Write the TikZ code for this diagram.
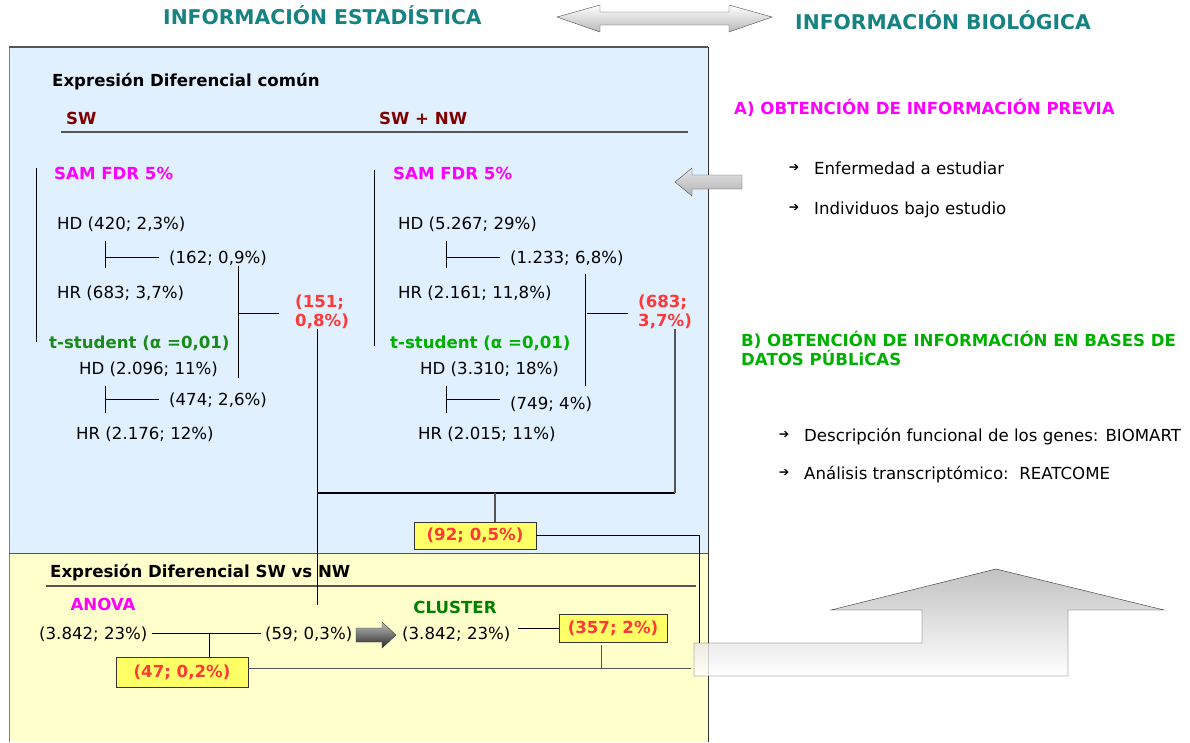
\documentclass[tikz,border=0pt]{standalone}
\usepackage{fontspec}
\setmainfont{DejaVu Sans}
\definecolor{PanelBlue}{HTML}{E1F0FF}
\definecolor{PanelYellow}{HTML}{FFFFCC}
\definecolor{BoxYellow}{HTML}{FFFF66}
\definecolor{ValRed}{HTML}{FF3838}
\definecolor{TitleTeal}{HTML}{168282}
\definecolor{HeadMagenta}{HTML}{FF00FF}
\definecolor{HeadDarkRed}{HTML}{800000}
\definecolor{TestGreen}{HTML}{1A8A1A}
\definecolor{ClusterGreen}{HTML}{008000}
\definecolor{BrightGreen}{HTML}{00B000}
\definecolor{LineGray}{HTML}{555555}

\begin{document}
\begin{tikzpicture}[x=1pt, y=-1pt, inner sep=0pt,
    plain/.style={anchor=base west, font=\fontsize{16.6}{19}\selectfont},
    bold/.style={anchor=base west, font=\fontsize{16.6}{19}\selectfont\bfseries},
    title/.style={anchor=base west, text=TitleTeal, font=\fontsize{20.3}{24}\selectfont\bfseries},
    valbox/.style={draw=black!80, fill=BoxYellow, text=ValRed, font=\fontsize{16.6}{19}\selectfont\bfseries},
    bul/.style={font=\fontsize{12.5}{12}\selectfont},
    link/.style={black, line width=0.8pt}]
  \useasboundingbox (0,0) rectangle (1190,742);

  % Panels
  \fill[PanelBlue] (9,47) rectangle (708,553);
  \fill[PanelYellow] (9,553) rectangle (708,742);
  \draw[gray] (9,742) -- (9,47);
  \draw[black!80] (708,47) -- (708,742);
  \draw[LineGray, line width=1.3pt] (9,47) -- (708,47);
  \draw[LineGray] (9,553) -- (708,553);
  \draw[LineGray, line width=1.2pt] (61,132) -- (688,132);
  \draw[LineGray, line width=1.2pt] (46,586) -- (696,586);

  % Nodes
  \node[title] (est) at (163,24.4) {INFORMACIÓN ESTADÍSTICA};
  \node[title] (bio) at (795,29.4) {INFORMACIÓN BIOLÓGICA};

  \node[bold] (comun) at (52,86) {Expresión Diferencial común};
  \node[bold, text=HeadDarkRed] (sw) at (66,124) {SW};
  \node[bold, text=HeadDarkRed] (swnw) at (379,124) {SW + NW};

  \node[bold, text=HeadMagenta] (samL) at (54,179) {SAM FDR 5\%};
  \node[plain] (hdL1) at (57,229) {HD (420; 2,3\%)};
  \node[plain] (inL1) at (169,263) {(162; 0,9\%)};
  \node[plain] (hrL1) at (57,298) {HR (683; 3,7\%)};
  \node[bold, text=TestGreen] (tL) at (49,348) {t-student (α =0,01)};
  \node[plain] (hdL2) at (79,374) {HD (2.096; 11\%)};
  \node[plain] (inL2) at (169,405) {(474; 2,6\%)};
  \node[plain] (hrL2) at (76,439) {HR (2.176; 12\%)};
  \node[bold, text=ValRed, anchor=west, align=left] (resL) at (295,312) {(151;\\0,8\%)};

  \node[bold, text=HeadMagenta] (samR) at (393,179) {SAM FDR 5\%};
  \node[plain] (hdR1) at (398,229) {HD (5.267; 29\%)};
  \node[plain] (inR1) at (510,263) {(1.233; 6,8\%)};
  \node[plain] (hrR1) at (398,298) {HR (2.161; 11,8\%)};
  \node[bold, text=BrightGreen] (tR) at (390,348) {t-student (α =0,01)};
  \node[plain] (hdR2) at (420,374) {HD (3.310; 18\%)};
  \node[plain] (inR2) at (510,409) {(749; 4\%)};
  \node[plain] (hrR2) at (418,439) {HR (2.015; 11\%)};
  \node[bold, text=ValRed, anchor=west, align=left] (resR) at (638,312) {(683;\\3,7\%)};

  \node[valbox, minimum width=122pt, minimum height=27pt] (v92) at (475,535.5) {(92; 0,5\%)};

  \node[bold] (exsw) at (50,577) {Expresión Diferencial SW vs NW};
  \node[bold, text=HeadMagenta, anchor=base] (anova) at (103,610) {ANOVA};
  \node[plain] (an1) at (39,639) {(3.842; 23\%)};
  \node[plain] (an59) at (265,639) {(59; 0,3\%)};
  \node[bold, text=ClusterGreen, anchor=base] (clus) at (455,613) {CLUSTER};
  \node[plain] (cl1) at (402,639) {(3.842; 23\%)};
  \node[valbox, minimum width=108pt, minimum height=28pt] (v357) at (613,628) {(357; 2\%)};
  \node[valbox, minimum width=132pt, minimum height=30pt] (v47) at (182,672) {(47; 0,2\%)};

  \node[bold, text=HeadMagenta] (infoA) at (734,114) {A) OBTENCIÓN DE INFORMACIÓN PREVIA};
  \node[bul] (buA1) at (794,168) {➔};
  \node[plain] (itA1) at (814,174) {Enfermedad a estudiar};
  \node[bul] (buA2) at (794,208) {➔};
  \node[plain] (itA2) at (814,214) {Individuos bajo estudio};
  \node[bold, text=BrightGreen, anchor=west, align=left] (infoB) at (741,348) {B) OBTENCIÓN DE INFORMACIÓN EN BASES DE\\DATOS PÚBLiCAS};
  \node[bul] (buB1) at (784,435) {➔};
  \node[plain] (itB1) at (804,441) {Descripción funcional de los genes: BIOMART};
  \node[bul] (buB2) at (784,473) {➔};
  \node[plain] (itB2) at (804,479) {Análisis transcriptómico:\ \ REATCOME};

  % Coordinates
  \coordinate (jL) at (238,313);
  \coordinate (jR) at (587,313);
  \coordinate (dL) at (317,605);
  \coordinate (jm) at (317,493);
  \coordinate (dR) at (675,493);
  \coordinate (jv) at (495,493);
  \coordinate (barIn) at (699,643);
  \coordinate (ja) at (209,634);
  \coordinate (jb) at (601,668);
  \coordinate (barL) at (691,668);

  % Paths
  \draw[link] (36,168) -- (36,342);
  \draw[link] (105,241) -- (105,268);
  \draw[link] ([xshift=-10pt]inL1.west) -- ++(-54,0);
  \draw[link] (238,266) -- (238,378);
  \draw[link] (jL) -- ++(41,0);
  \draw[link] (105,386) -- (105,413);
  \draw[link] ([xshift=-10pt]inL2.west) -- ++(-54,0);

  \draw[link] (374,170) -- (374,346);
  \draw[link] (446,241) -- (446,268);
  \draw[link] ([xshift=-10pt]inR1.west) -- ++(-54,0);
  \draw[link] (585,274) -- (585,386);
  \draw[link] (jR) -- ++(41,0);
  \draw[link] (446,386) -- (446,413);
  \draw[link] (446,399) -- (500,399);

  \draw[link] (dL |- resL.south) -- (dL);
  \draw[link, line width=1.2pt] (jm) -- (dR);
  \draw[link, LineGray, line width=1.2pt] (dR) -- (dR |- resR.south);
  \draw[link, LineGray, line width=1.2pt] (jv) -- (jv |- v92.north);
  \draw[link] (v92.east) -| (barIn);

  \draw[link] ([xshift=4pt]an1.east) -- ([xshift=-4pt]an59.west);
  \draw[link] (ja) -- (ja |- v47.north);
  \draw[link] (v357.west) -- ++(-41,0);
  \draw[link, LineGray] (v357.south -| jb) ++(0,3) -- (jb);
  \draw[link, LineGray] (v47.east |- jb) -- (barL);

  % Arrows
  \draw[black!70, top color=white, bottom color=gray!55]
    (557,17) -- (600,5) -- (600,12) -- (729,12) -- (729,5) -- (772,17)
    -- (729,32) -- (729,25) -- (600,25) -- (600,32) -- cycle;
  \draw[black!70, top color=gray!20, bottom color=gray!60]
    (675,182) -- (692,168) -- (692,175) -- (742,175) -- (742,189)
    -- (692,189) -- (692,196) -- cycle;
  \draw[black!80, top color=gray!50, bottom color=black!85]
    (356,628) -- (382,628) -- (382,622) -- (396,635) -- (382,648)
    -- (382,642) -- (356,642) -- cycle;
  \draw[black!80, top color=gray!60, bottom color=white, fill opacity=0.8]
    (694,643) -- (922,643) -- (922,610) -- (831,610) -- (996,569)
    -- (1164,610) -- (1068,610) -- (1068,676) -- (694,676) -- cycle;
\end{tikzpicture}
\end{document}
